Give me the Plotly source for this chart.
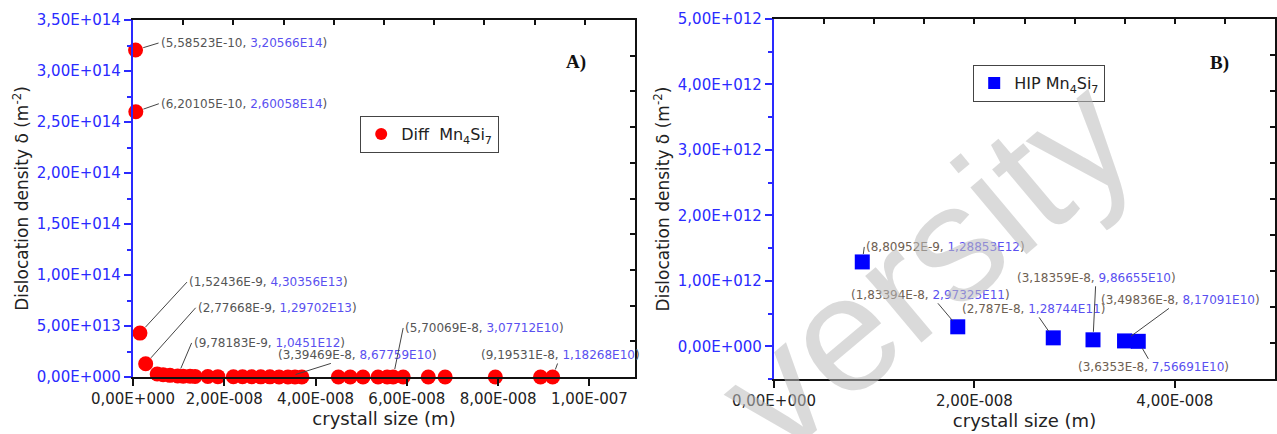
import plotly.graph_objects as go

# ---------------- data ----------------
# Panel A: Diff Mn4Si7 (crystal size in m, dislocation density in m^-2)
diff_x = [5.58523e-10, 6.20105e-10, 1.52436e-9, 2.77668e-9,
          5.3e-9, 6.6e-9, 8.1e-9, 9.78183e-9, 1.10e-8, 1.25e-8, 1.36e-8,
          1.64e-8, 1.86e-8,
          2.2e-8, 2.4e-8, 2.6e-8, 2.8e-8, 3.0e-8, 3.2e-8, 3.39469e-8, 3.55e-8, 3.7e-8,
          4.5e-8, 4.76e-8, 5.04e-8, 5.37e-8, 5.57e-8, 5.70069e-8, 5.92e-8,
          6.47e-8, 6.84e-8, 7.94e-8, 8.93e-8, 9.19531e-8]
diff_y = [3.20566e14, 2.60058e14, 4.30356e13, 1.29702e13,
          3.0e12, 2.2e12, 1.6e12, 1.0451e12, 8.5e11, 7.0e11, 6.0e11,
          4.5e11, 3.6e11,
          2.8e11, 2.4e11, 2.0e11, 1.7e11, 1.4e11, 1.1e11, 8.67759e10, 8.0e10, 7.2e10,
          5.5e10, 5.0e10, 4.5e10, 4.0e10, 3.4e10, 3.07712e10, 2.9e10,
          2.4e10, 2.1e10, 1.6e10, 1.3e10, 1.18268e10]

# labelled points of panel A: x text, y text
diff_lab_x = [5.58523e-10, 6.20105e-10, 1.52436e-9, 2.77668e-9, 9.78183e-9,
              3.39469e-8, 5.70069e-8, 9.19531e-8]
diff_lab_y = [3.20566e14, 2.60058e14, 4.30356e13, 1.29702e13, 1.0451e12,
              8.67759e10, 3.07712e10, 1.18268e10]
diff_lab_xt = ["5,58523E-10", "6,20105E-10", "1,52436E-9", "2,77668E-9", "9,78183E-9",
               "3,39469E-8", "5,70069E-8", "9,19531E-8"]
diff_lab_yt = ["3,20566E14", "2,60058E14", "4,30356E13", "1,29702E13", "1,0451E12",
               "8,67759E10", "3,07712E10", "1,18268E10"]

# Panel B: HIP Mn4Si7
hip_x = [8.80952e-9, 1.83394e-8, 2.787e-8, 3.18359e-8, 3.49836e-8, 3.6353e-8]
hip_y = [1.28853e12, 2.97325e11, 1.28744e11, 9.86655e10, 8.17091e10, 7.56691e10]
hip_xt = ["8,80952E-9", "1,83394E-8", "2,787E-8", "3,18359E-8", "3,49836E-8", "3,6353E-8"]
hip_yt = ["1,28853E12", "2,97325E11", "1,28744E11", "9,86655E10", "8,17091E10", "7,56691E10"]

# tick labels
a_xticks = [0, 2e-8, 4e-8, 6e-8, 8e-8, 1e-7]
a_xtext = ["0,00E+000", "2,00E-008", "4,00E-008", "6,00E-008", "8,00E-008", "1,00E-007"]
a_yticks = [0, 5e13, 1e14, 1.5e14, 2e14, 2.5e14, 3e14, 3.5e14]
a_ytext = ["0,00E+000", "5,00E+013", "1,00E+014", "1,50E+014", "2,00E+014",
           "2,50E+014", "3,00E+014", "3,50E+014"]
b_xticks = [0, 2e-8, 4e-8]
b_xtext = ["0,00E+000", "2,00E-008", "4,00E-008"]
b_yticks = [0, 1e12, 2e12, 3e12, 4e12, 5e12]
b_ytext = ["0,00E+000", "1,00E+012", "2,00E+012", "3,00E+012", "4,00E+012", "5,00E+012"]

# ---------------- styling ----------------
FONT = "DejaVu Sans, Arial, sans-serif"
SERIF = "Liberation Serif, Times New Roman, serif"
BLUE_AX = "#2a2aff"
XCOL = "#555555"
XCOL_B = "#6e6052"
YCOL = "#5a50f0"

W, H = 1277, 434
A_dom_x = [133 / W, 635 / W]
A_dom_y = [1 - 377 / H, 1 - 20 / H]
B_dom_x = [774 / W, 1275 / W]
B_dom_y = [1 - 379 / H, 1 - 19 / H]

fig = go.Figure()

fig.add_trace(go.Scatter(
    x=diff_x, y=diff_y, mode="markers", name="Diff&nbsp;&nbsp;Mn<sub>4</sub>Si<sub>7</sub>",
    marker=dict(symbol="circle", size=15, color="#ff0000"),
    xaxis="x", yaxis="y", cliponaxis=False, legend="legend"))

fig.add_trace(go.Scatter(
    x=hip_x, y=hip_y, mode="markers", name="HIP Mn<sub>4</sub>Si<sub>7</sub>",
    marker=dict(symbol="square", size=15, color="#0000ff"),
    xaxis="x2", yaxis="y2", cliponaxis=False, legend="legend2"))

# empty traces so that the mirror frame axes are drawn
fig.add_trace(go.Scatter(x=[], y=[], xaxis="x3", yaxis="y3", showlegend=False))
fig.add_trace(go.Scatter(x=[], y=[], xaxis="x4", yaxis="y4", showlegend=False))

tickfont = dict(family=FONT, size=15, color="#222222")
ytickfont = dict(family=FONT, size=15, color=BLUE_AX)
xtitlefont = dict(family=FONT, size=18, color="#222222")
ytitlefont = dict(family=FONT, size=17, color="#222222")

def xaxis_main(dom, rng, tv, tt, anchor):
    return dict(domain=dom, range=rng, anchor=anchor, tickmode="array", tickvals=tv, ticktext=tt,
                ticks="outside", ticklen=7, tickwidth=1.5, tickcolor="#111",
                showline=True, linecolor="#111", linewidth=1.5, showgrid=False, zeroline=False,
                tickfont=tickfont, automargin=False,
                title=dict(text="crystall size (m)", font=xtitlefont, standoff=6))

def yaxis_main(dom, rng, tv, tt, anchor, minor_dtick):
    return dict(domain=dom, range=rng, anchor=anchor, tickmode="array", tickvals=tv, ticktext=tt,
                ticks="outside", ticklen=7, tickwidth=1.5, tickcolor=BLUE_AX,
                showline=True, linecolor=BLUE_AX, linewidth=2.2, showgrid=False, zeroline=False,
                tickfont=ytickfont, automargin=False,
                minor=dict(ticks="outside", ticklen=4, tickwidth=1.5, tickcolor=BLUE_AX,
                           dtick=minor_dtick, tick0=0, showgrid=False),
                title=dict(text="Dislocation density \u03b4 (m<sup>-2</sup>)", font=ytitlefont, standoff=4))

frame_ticks = [i / 10 for i in range(11)]

def frame_axis(dom, over, anchor, side):
    return dict(domain=dom, range=[0, 1], overlaying=over, anchor=anchor, side=side,
                tickmode="array", tickvals=frame_ticks, ticks="inside", ticklen=5,
                tickwidth=1.5, tickcolor="#111", showticklabels=False, showline=True,
                linecolor="#111", linewidth=1.5, showgrid=False, zeroline=False)

fig.update_layout(
    width=W, height=H, margin=dict(l=0, r=0, t=0, b=0),
    paper_bgcolor="white", plot_bgcolor="rgba(0,0,0,0)",
    font=dict(family=FONT),
    xaxis=xaxis_main(A_dom_x, [0, 1.1e-7], a_xticks, a_xtext, "y"),
    yaxis=yaxis_main(A_dom_y, [0, 3.5e14], a_yticks, a_ytext, "x", 2.5e13),
    xaxis2=xaxis_main(B_dom_x, [0, 5e-8], b_xticks, b_xtext, "y2"),
    yaxis2=yaxis_main(B_dom_y, [-5e11, 5e12], b_yticks, b_ytext, "x2", 5e11),
    xaxis3=frame_axis(A_dom_x, "x", "y3", "top"),
    yaxis3=frame_axis(A_dom_y, "y", "x3", "right"),
    xaxis4=frame_axis(B_dom_x, "x2", "y4", "top"),
    yaxis4=frame_axis(B_dom_y, "y2", "x4", "right"),
    legend=dict(x=360 / W, y=1 - 116 / H, xanchor="left", yanchor="top",
                bordercolor="#444", borderwidth=1.2, bgcolor="white",
                font=dict(family=FONT, size=16, color="#222"), itemsizing="constant"),
    legend2=dict(x=973 / W, y=1 - 65 / H, xanchor="left", yanchor="top",
                 bordercolor="#444", borderwidth=1.2, bgcolor="white",
                 font=dict(family=FONT, size=16, color="#222"), itemsizing="constant"),
    showlegend=True,
)

# ---------------- point labels ----------------
# (ax, ay, xanchor) offsets in pixels of the label from its point
a_offsets = [(23, -7, "left"), (23, -8, "left"), (47, -51, "left"), (50, -56, "left"),
             (14, -33, "left"), (70, -22, "center"), (10, -49, "left"), (8, -22, "center")]
ann = []
for xv, yv, xt, yt, (ax, ay, xa) in zip(diff_lab_x, diff_lab_y, diff_lab_xt, diff_lab_yt, a_offsets):
    ann.append(dict(
        x=xv, y=yv, xref="x", yref="y", ax=ax, ay=ay, axref="pixel", ayref="pixel",
        text=f"<span style='color:{XCOL}'>({xt}, </span><span style='color:{YCOL}'>{yt}</span><span style='color:{XCOL}'>)</span>",
        showarrow=True, arrowhead=0, arrowwidth=1, arrowcolor="#444", standoff=8,
        xanchor=xa, yanchor="middle", borderpad=1,
        font=dict(family=FONT, size=12)))

b_offsets = [(2, -15, "left"), (-27, -32, "center"), (-20, -29, "center"),
             (3, -62, "center"), (56, -41, "center"), (15, 26, "center")]
for xv, yv, xt, yt, (ax, ay, xa) in zip(hip_x, hip_y, hip_xt, hip_yt, b_offsets):
    ann.append(dict(
        x=xv, y=yv, xref="x2", yref="y2", ax=ax, ay=ay, axref="pixel", ayref="pixel",
        text=f"<span style='color:{XCOL_B}'>({xt}, </span><span style='color:{YCOL}'>{yt}</span><span style='color:{XCOL_B}'>)</span>",
        showarrow=True, arrowhead=0, arrowwidth=1, arrowcolor="#444", standoff=8,
        xanchor=xa, yanchor="middle", borderpad=1,
        font=dict(family=FONT, size=12)))

# panel letters
ann.append(dict(x=576 / W, y=1 - 62 / H, xref="paper", yref="paper", text="<b>A)</b>",
                xanchor="center", yanchor="middle",
                showarrow=False, font=dict(family=SERIF, size=19, color="#111")))
ann.append(dict(x=1219 / W, y=1 - 63 / H, xref="paper", yref="paper", text="<b>B)</b>",
                xanchor="center", yanchor="middle",
                showarrow=False, font=dict(family=SERIF, size=19, color="#111")))

# watermark
ann.append(dict(x=925 / W, y=1 - 265 / H, xref="paper", yref="paper", text="versity",
                xanchor="center", yanchor="middle",
                showarrow=False, textangle=-40, opacity=0.55,
                font=dict(family="Liberation Sans, Arial, sans-serif", size=165, color="#bdbdbd")))

fig.update_layout(annotations=ann)

fig.write_html("out.html", config={"displayModeBar": False},
               post_script="document.body.style.margin='0px';")
